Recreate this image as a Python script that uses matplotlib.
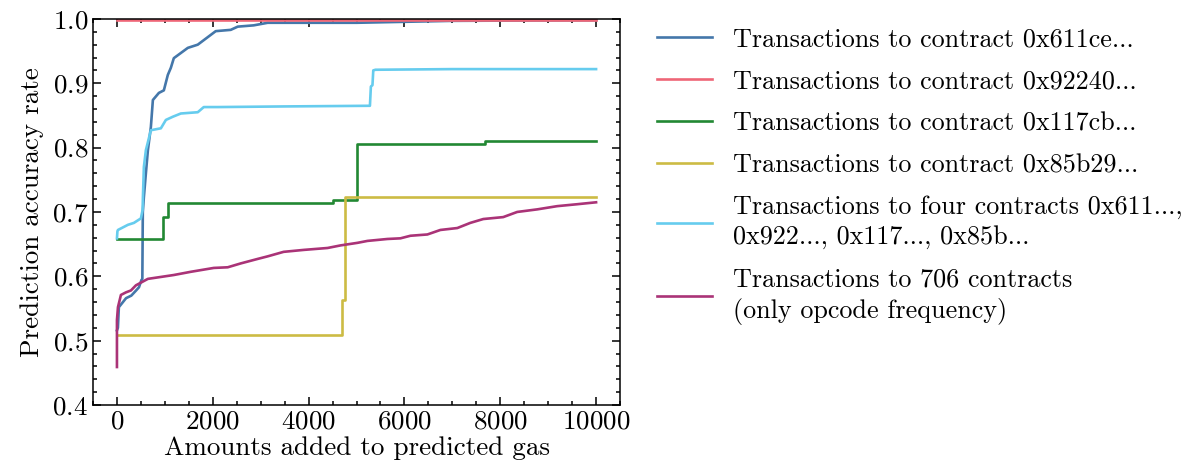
import matplotlib
matplotlib.use("Agg")
import matplotlib.pyplot as plt
from matplotlib.ticker import MultipleLocator

# values
blue_x = [0, 20, 40, 190, 300, 400, 460, 510, 530, 540, 562, 604, 646, 708,
          750, 875, 979, 1062, 1125, 1187, 1333, 1479, 1687, 1812, 2062, 2375,
          2521, 2854, 3000, 3146, 5000, 7000, 10000]
blue_y = [0.516, 0.520, 0.552, 0.566, 0.570, 0.578, 0.583, 0.594, 0.596,
          0.700, 0.723, 0.760, 0.796, 0.832, 0.874, 0.885, 0.889, 0.913,
          0.924, 0.939, 0.947, 0.955, 0.960, 0.967, 0.981, 0.983, 0.988,
          0.990, 0.992, 0.994, 0.994, 0.997, 0.998]

red_x = [0, 5000, 10000]
red_y = [0.998, 0.998, 0.998]

green_x = [0, 958, 1060, 4500, 5020, 7690, 10000]
green_y = [0.658, 0.692, 0.714, 0.718, 0.806, 0.810, 0.810]

yellow_x = [0, 4688, 4770, 10000]
yellow_y = [0.508, 0.563, 0.723, 0.723]

four_x = [0, 10, 21, 229, 354, 500, 535, 542, 562, 604, 708, 917, 1021,
          1167, 1333, 1687, 1812, 2104, 3500, 5280, 5300, 5333, 5350, 5396,
          7000, 10000]
four_y = [0.659, 0.670, 0.672, 0.680, 0.683, 0.690, 0.703, 0.723, 0.770,
          0.796, 0.827, 0.830, 0.843, 0.848, 0.853, 0.855, 0.863, 0.863,
          0.864, 0.865, 0.895, 0.897, 0.920, 0.921, 0.922, 0.922]

all_x = [0, 0, 21, 83, 187, 292, 396, 646, 917, 1187, 1542, 2021, 2312, 2583,
         2937, 3146, 3479, 3896, 4396, 4667, 5021, 5229, 5646, 5917, 6125,
         6479, 6750, 7104, 7375, 7646, 8062, 8354, 8771, 9187, 9604, 10000]
all_y = [0.459, 0.532, 0.552, 0.571, 0.575, 0.578, 0.586, 0.596, 0.599,
         0.602, 0.607, 0.613, 0.614, 0.620, 0.627, 0.631, 0.638, 0.641,
         0.644, 0.648, 0.652, 0.655, 0.658, 0.659, 0.663, 0.665, 0.672,
         0.675, 0.683, 0.689, 0.692, 0.700, 0.704, 0.709, 0.712, 0.715]

labels = [
    "Transactions to contract 0x611ce...",
    "Transactions to contract 0x92240...",
    "Transactions to contract 0x117cb...",
    "Transactions to contract 0x85b29...",
    "Transactions to four contracts 0x611...,\n0x922..., 0x117..., 0x85b...",
    "Transactions to 706 contracts\n(only opcode frequency)",
]
colors = ["#4477AA", "#EE6677", "#228833", "#CCBB44", "#66CCEE", "#AA3377"]

plt.rcParams["font.family"] = "serif"
plt.rcParams["font.serif"] = ["cmr10"]
plt.rcParams["mathtext.fontset"] = "cm"
plt.rcParams["axes.formatter.use_mathtext"] = True
plt.rcParams["font.size"] = 19.5

fig = plt.figure(figsize=(12.03, 4.73), dpi=100)
ax = fig.add_axes([0.0773, 0.1438, 0.5154 - 0.0773, 0.96 - 0.1438])

lw = 1.9
ax.plot(blue_x, blue_y, color=colors[0], lw=lw, label=labels[0])
ax.plot(red_x, red_y, drawstyle="steps-post", color=colors[1], lw=lw,
        label=labels[1])
ax.plot(green_x, green_y, drawstyle="steps-post", color=colors[2], lw=lw,
        label=labels[2])
ax.plot(yellow_x, yellow_y, drawstyle="steps-post", color=colors[3], lw=lw,
        label=labels[3])
ax.plot(four_x, four_y, color=colors[4], lw=lw, label=labels[4])
ax.plot(all_x, all_y, color=colors[5], lw=lw, label=labels[5])

ax.set_xlim(-500, 10500)
ax.set_ylim(0.4, 1.0)
ax.xaxis.set_major_locator(MultipleLocator(2000))
ax.xaxis.set_minor_locator(MultipleLocator(500))
ax.yaxis.set_major_locator(MultipleLocator(0.1))
ax.yaxis.set_minor_locator(MultipleLocator(0.02))
ax.tick_params(which="both", direction="in", top=True, right=True)
ax.tick_params(which="major", length=6, width=1.1)
ax.tick_params(which="minor", length=3, width=1.1)
for s in ax.spines.values():
    s.set_linewidth(1.1)
ax.set_xlabel("Amounts added to predicted gas", labelpad=2)
ax.set_ylabel("Prediction accuracy rate", labelpad=6)

leg = ax.legend(loc="upper left", bbox_to_anchor=(1.051, 1.005),
                frameon=False, borderaxespad=0, fontsize=18.8,
                handlelength=2.1, handletextpad=0.8, labelspacing=0.7)
for t in leg.get_texts():
    t.set_linespacing(1.32)

fig.savefig("out.png", dpi=100)
